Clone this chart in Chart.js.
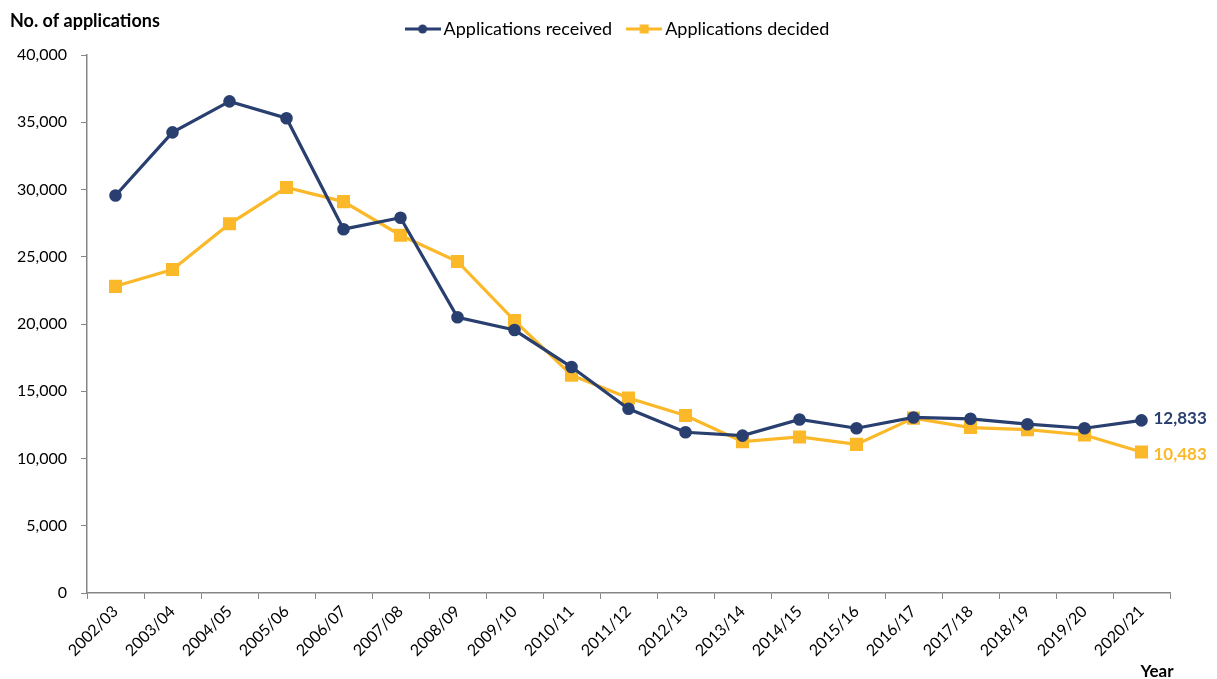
<!DOCTYPE html>
<html>
<head>
<meta charset="utf-8">
<script src="https://cdn.jsdelivr.net/npm/chart.js@4.4.0/dist/chart.umd.min.js"></script>
<style>
html,body{margin:0;padding:0;background:#fff;}
#wrap{width:1217px;height:679px;position:relative;}
</style>
</head>
<body>
<div id="wrap"><canvas id="c" width="1217" height="679"></canvas></div>
<script>
const years = ["2002/03","2003/04","2004/05","2005/06","2006/07","2007/08","2008/09","2009/10","2010/11","2011/12","2012/13","2013/14","2014/15","2015/16","2016/17","2017/18","2018/19","2019/20","2020/21"];
const received = [29550,34250,36550,35300,27050,27900,20500,19550,16800,13700,11950,11700,12900,12250,13050,12950,12550,12250,12833];
const decided  = [22800,24050,27450,30150,29100,26600,24650,20250,16200,14500,13200,11250,11600,11050,13000,12300,12150,11750,10483];
const yTicks = [0,5000,10000,15000,20000,25000,30000,35000,40000];

const NAVY = "#293f6f";
const GOLD = "#fbb829";
const FONT = "Lato, 'Open Sans', sans-serif";

function legendIcon(color, shape){
  const c = document.createElement('canvas');
  c.width = 36; c.height = 12;
  const g = c.getContext('2d');
  g.strokeStyle = color; g.lineWidth = 3;
  g.beginPath(); g.moveTo(0,6); g.lineTo(36,6); g.stroke();
  g.fillStyle = color;
  if(shape==='circle'){ g.beginPath(); g.arc(18,6,4.5,0,Math.PI*2); g.fill(); }
  else { g.fillRect(13.5,1.5,9,9); }
  return c;
}
const icons = [legendIcon(NAVY,'circle'), legendIcon(GOLD,'rect')];

const legendAdjust = {
  id:'legendAdjust',
  beforeLayout(chart){
    const lg = chart.legend;
    if(lg && !lg._wrapped){
      const f = lg.fit;
      lg.fit = function(){ f.call(this); this.height += 7; };
      lg._wrapped = true;
    }
  },
  afterLayout(chart){
    const lg = chart.legend;
    if(lg){ lg.left += 35; lg.right += 35; }
  }
};

const extras = {
  id:'extras',
  afterDraw(chart){
    const ctx = chart.ctx;
    ctx.save();
    ctx.fillStyle = '#000';
    ctx.font = "bold 18px " + FONT;
    ctx.textBaseline = 'middle';
    ctx.textAlign = 'left';
    ctx.fillText("No. of applications", 10, 21);
    ctx.font = "bold 17px " + FONT;
    ctx.textAlign = 'center';
    ctx.fillText("Year", 1157, 672);
    ctx.font = "bold 17px " + FONT;
    ctx.textAlign = 'left';
    chart.data.datasets.forEach((ds,i)=>{
      const meta = chart.getDatasetMeta(i);
      const pt = meta.data[meta.data.length-1];
      const v = ds.data[ds.data.length-1];
      ctx.fillStyle = ds.borderColor;
      ctx.fillText(v.toLocaleString('en-US'), pt.x + 12, pt.y + (i===0 ? -2 : 3));
    });
    ctx.restore();
  }
};

new Chart(document.getElementById('c'), {
  type:'line',
  data:{
    labels: years,
    datasets:[
      {label:"Applications received", data:received, borderColor:NAVY, backgroundColor:NAVY,
       borderWidth:3.2, pointStyle:'circle', pointRadius:4.7, pointHoverRadius:4.7, tension:0},
      {label:"Applications decided", data:decided, borderColor:GOLD, backgroundColor:GOLD,
       borderWidth:3.2, pointStyle:'rect', pointRadius:7, pointHoverRadius:7, tension:0}
    ]
  },
  plugins:[legendAdjust, extras],
  options:{
    responsive:false,
    animation:false,
    devicePixelRatio:1,
    layout:{padding:{left:0,right:47,top:0,bottom:0}},
    plugins:{
      tooltip:{enabled:false},
      legend:{
        display:true, position:'top', align:'center',
        labels:{
          font:{family:FONT,size:18}, color:'#000',
          usePointStyle:true, boxHeight:18, pointStyleWidth:24, padding:20,
          generateLabels(chart){
            return chart.data.datasets.map((ds,i)=>({
              text: ds.label, pointStyle: icons[i], fillStyle: ds.borderColor,
              strokeStyle: ds.borderColor, lineWidth:0, hidden:false, datasetIndex:i, fontColor:'#000'
            }));
          }
        }
      }
    },
    scales:{
      x:{
        type:'category',
        offset:true,
        afterFit(s){ s.height = 86; },
        grid:{offset:true, drawOnChartArea:false, drawTicks:true, tickLength:6, color:'#868686', lineWidth:1},
        border:{display:true, color:'#868686', width:1.5},
        ticks:{font:{family:FONT,size:16}, color:'#000', minRotation:45, maxRotation:45, autoSkip:false, padding:3}
      },
      y:{
        min:0, max:40000,
        afterFit(s){ s.width = 87; },
        afterBuildTicks(s){ s.ticks = yTicks.map(v=>({value:v})); },
        grid:{drawOnChartArea:false, drawTicks:true, tickLength:6, color:'#868686', lineWidth:1},
        border:{display:true, color:'#868686', width:1.5},
        ticks:{font:{family:FONT,size:16}, color:'#000', padding:14,
          callback:(v)=>Number(v).toLocaleString('en-US')}
      }
    }
  }
});
</script>
</body>
</html>
